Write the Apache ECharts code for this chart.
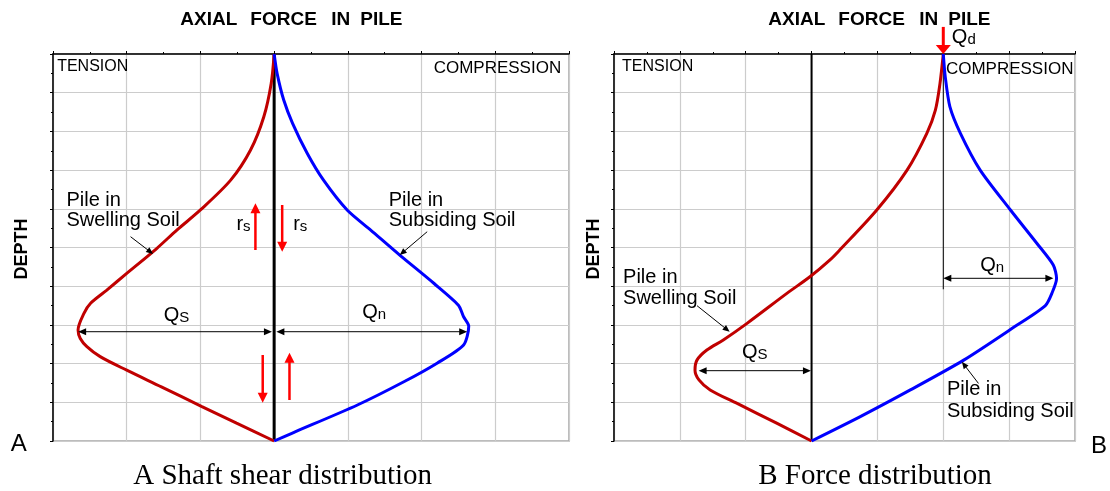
<!DOCTYPE html>
<html>
<head>
<meta charset="utf-8">
<script src="https://cdn.jsdelivr.net/npm/echarts@6/dist/echarts.min.js"></script>
<style>
html,body{margin:0;padding:0;background:#fff;}
#chart{width:1110px;height:491px;}
</style>
</head>
<body>
<div id="chart"></div>
<script>
// ---------------- DATA ----------------
// Axial force (x, grid units: negative = tension, positive = compression) vs depth (y, grid units, 0 = pile head)
const forceMin = -3, forceMax = 4, depthMin = 0, depthMax = 10;

// Panel A - shaft shear distribution
const aSwellDepth = [0, 0.76, 1.62, 2.48, 3.26, 4.03, 4.55, 5.02, 5.67, 6.10, 6.44, 6.70, 7.13, 7.35, 7.56, 7.82, 8.17, 8.60, 9.11, 9.54, 10];
const aSwellForce = [0, -0.04, -0.14, -0.32, -0.59, -1.00, -1.32, -1.59, -2.00, -2.27, -2.49, -2.58, -2.66, -2.63, -2.54, -2.36, -2.00, -1.53, -0.98, -0.51, 0];
const aSubsDepth  = [0, 0.50, 1.19, 1.79, 2.57, 3.26, 4.03, 4.55, 5.19, 5.93, 6.49, 6.79, 7.03, 7.52, 7.99, 8.47, 9.07, 9.80, 10];
const aSubsForce  = [0, 0.04, 0.13, 0.25, 0.45, 0.67, 0.99, 1.31, 1.70, 2.17, 2.50, 2.57, 2.64, 2.57, 2.21, 1.76, 1.13, 0.24, 0];

// Panel B - force distribution
const bSwellDepth = [0, 0.76, 1.45, 2.05, 3.00, 4.03, 5.06, 5.32, 5.75, 6.18, 6.96, 7.39, 7.65, 7.91, 8.17, 8.42, 8.68, 9.03, 9.54, 10];
const bSwellForce = [2.00, 1.95, 1.88, 1.75, 1.45, 0.99, 0.43, 0.28, -0.02, -0.37, -0.98, -1.34, -1.59, -1.74, -1.77, -1.71, -1.54, -1.13, -0.53, 0];
const bSubsDepth  = [0, 0.59, 1.36, 2.05, 3.00, 4.03, 4.89, 5.45, 5.80, 6.18, 6.50, 7.05, 7.91, 8.68, 9.37, 10];
const bSubsForce  = [2.00, 2.03, 2.10, 2.26, 2.56, 3.02, 3.42, 3.67, 3.72, 3.65, 3.55, 3.08, 2.31, 1.50, 0.74, 0];
const bAppliedLoad = 2.0;     // Qd at pile head
const bLoadLineEnd = 6.08;    // depth where the Qd reference line stops

// ---------------- ANNOTATIONS (data units) ----------------
// arrows: [x1, y1, x2, y2, doubleHeaded]
const aShearArrows = [[-0.254, 5.065, -0.254, 3.858, 0], [0.109, 3.902, 0.109, 5.109, 0], [-0.155, 7.778, -0.155, 9.010, 0], [0.208, 8.941, 0.208, 7.718, 0]];
const aForceArrows = [[-2.659, 7.176, -0.03, 7.176, 1], [0.03, 7.176, 2.619, 7.176, 1]];
const aLeaders = [[-1.948, 4.721, -1.642, 5.168, 0], [2.076, 4.592, 1.704, 5.194, 0]];
const bLoadArrow = [[bAppliedLoad, -0.70, bAppliedLoad, 0, 0]];
const bForceArrows = [[-1.715, 8.183, -0.01, 8.183, 1], [bAppliedLoad, 5.796, 3.672, 5.796, 1]];
const bLeaders = [[-1.739, 6.504, -1.244, 7.176, 0], [2.534, 8.512, 2.282, 7.953, 0]];

const aLabels = [
  {x: -2.944, y: 0.328, text: 'TENSION', size: 16, align: 'left'},
  {x: 3.894, y: 0.380, text: 'COMPRESSION', size: 17, align: 'right'},
  {x: -2.818, y: 4.031, text: 'Pile in\nSwelling Soil', size: 20, lh: 20, align: 'left'},
  {x: 1.555, y: 4.031, text: 'Pile in\nSubsiding Soil', size: 20, lh: 20, align: 'left'},
  {x: -0.512, y: 4.393, main: 'r', sub: 's'},
  {x: 0.258, y: 4.393, main: 'r', sub: 's'},
  {x: -1.498, y: 6.757, main: 'Q', sub: 'S'},
  {x: 1.194, y: 6.680, main: 'Q', sub: 'n'}
];
const bLabels = [
  {x: -2.877, y: 0.318, text: 'TENSION', size: 16, align: 'left'},
  {x: 3.976, y: 0.388, text: 'COMPRESSION', size: 17, align: 'right'},
  {x: 2.130, y: -0.426, main: 'Q', sub: 'd'},
  {x: 2.560, y: 5.470, main: 'Q', sub: 'n'},
  {x: -1.056, y: 7.713, main: 'Q', sub: 'S'},
  {x: -2.862, y: 6.037, text: 'Pile in\nSwelling Soil', size: 20, lh: 21, align: 'left'},
  {x: 2.055, y: 8.966, text: 'Pile in\nSubsiding Soil', size: 20, lh: 22, align: 'left'}
];

// ---------------- STYLE ----------------
const SANS = '"Liberation Sans", Arial, Helvetica, sans-serif';
const SERIF = '"Liberation Serif", "Times New Roman", serif';
const RED = '#c00000', BLUE = '#0000ff';

function pairs(xs, ys) { return xs.map((x, i) => [x, ys[i]]); }

function arrowRender(color, width, headLen, headW) {
  return function (params, api) {
    const p1 = api.coord([api.value(0), api.value(1)]);
    const p2 = api.coord([api.value(2), api.value(3)]);
    const both = api.value(4) === 1;
    const dx = p2[0] - p1[0], dy = p2[1] - p1[1];
    const L = Math.hypot(dx, dy) || 1;
    const ux = dx / L, uy = dy / L, nx = -uy, ny = ux;
    const s = both ? [p1[0] + ux * headLen * 0.8, p1[1] + uy * headLen * 0.8] : p1;
    const e = [p2[0] - ux * headLen * 0.8, p2[1] - uy * headLen * 0.8];
    const head = (t, vx, vy) => ({
      type: 'polygon',
      shape: {points: [[t[0], t[1]],
        [t[0] - vx * headLen + nx * headW / 2, t[1] - vy * headLen + ny * headW / 2],
        [t[0] - vx * headLen - nx * headW / 2, t[1] - vy * headLen - ny * headW / 2]]},
      style: {fill: color}
    });
    const children = [
      {type: 'line', shape: {x1: s[0], y1: s[1], x2: e[0], y2: e[1]}, style: {stroke: color, lineWidth: width}},
      head(p2, ux, uy)
    ];
    if (both) children.push(head(p1, -ux, -uy));
    return {type: 'group', children: children};
  };
}

function labelRender(defs) {
  return function (params, api) {
    const d = defs[params.dataIndex];
    const p = api.coord([api.value(0), api.value(1)]);
    let style;
    if (d.main) {
      style = {
        text: '{m|' + d.main + '}{s|' + d.sub + '}',
        fill: '#000',
        align: 'left', textAlign: 'left',
        verticalAlign: 'middle', textVerticalAlign: 'middle',
        rich: {
          m: {fontSize: 20, fontFamily: SANS, lineHeight: 20, fill: '#000', color: '#000'},
          s: {fontSize: 15, fontFamily: SANS, lineHeight: 8, verticalAlign: 'bottom', fill: '#000', color: '#000'}
        }
      };
    } else {
      style = {
        text: d.text, fill: '#000',
        fontSize: d.size, fontFamily: SANS,
        lineHeight: d.lh || d.size,
        align: d.align, textAlign: d.align,
        verticalAlign: 'middle', textVerticalAlign: 'middle'
      };
    }
    return {type: 'text', x: p[0], y: p[1], style: style};
  };
}

function axesFor(i) {
  const x = {
    gridIndex: i, type: 'value', min: forceMin, max: forceMax, interval: 1, position: 'top',
    axisLine: {show: true, onZero: false, lineStyle: {color: '#000', width: 1.5}},
    axisTick: {show: true, inside: false, length: 3, lineStyle: {color: '#000', width: 1}},
    minorTick: {show: true, splitNumber: 2, length: 2, lineStyle: {color: '#000', width: 1}},
    axisLabel: {show: false},
    splitLine: {show: true, lineStyle: {color: '#cccccc', width: 1.2}},
    minorSplitLine: {show: false}
  };
  const y = {
    gridIndex: i, type: 'value', min: depthMin, max: depthMax, interval: 1, inverse: true, position: 'left',
    axisLine: {show: true, onZero: false, lineStyle: {color: '#000', width: 1.5}},
    axisTick: {show: true, inside: false, length: 3, lineStyle: {color: '#000', width: 1}},
    minorTick: {show: true, splitNumber: 2, length: 2, lineStyle: {color: '#000', width: 1}},
    axisLabel: {show: false},
    splitLine: {show: true, lineStyle: {color: '#cccccc', width: 1.2}}
  };
  return [x, y];
}

const [xa, ya] = axesFor(0);
const [xb, yb] = axesFor(1);

function curve(i, data, color, width, smooth) {
  return {type: 'line', xAxisIndex: i, yAxisIndex: i, data: data, showSymbol: false, symbol: 'none',
    smooth: smooth, lineStyle: {color: color, width: width}, silent: true, clip: false, z: 3};
}
function arrows(i, data, color, width, hl, hw) {
  return {type: 'custom', xAxisIndex: i, yAxisIndex: i, data: data, renderItem: arrowRender(color, width, hl, hw), silent: true, z: 6, clip: false};
}
function labels(i, defs) {
  return {type: 'custom', xAxisIndex: i, yAxisIndex: i, data: defs.map(d => [d.x, d.y]), renderItem: labelRender(defs), silent: true, z: 7, clip: false};
}

function titleWords(lefts) {
  const words = ['AXIAL', 'FORCE', 'IN', 'PILE'];
  return words.map((w, k) => ({
    type: 'text', x: lefts[k], y: 19.7,
    style: {text: w, font: 'bold 19px ' + SANS, fill: '#000', align: 'left', textAlign: 'left', verticalAlign: 'middle', textVerticalAlign: 'middle'}
  }));
}

const option = {
  animation: false,
  backgroundColor: '#fff',
  grid: [
    {left: 53, top: 54, width: 516, height: 387, show: true, borderColor: '#a6a6a6', borderWidth: 1.5, backgroundColor: 'transparent'},
    {left: 614, top: 54, width: 461, height: 387, show: true, borderColor: '#a6a6a6', borderWidth: 1.5, backgroundColor: 'transparent'}
  ],
  xAxis: [xa, xb],
  yAxis: [ya, yb],
  graphic: [].concat(
    titleWords([180.3, 250.3, 331.3, 360.3]),
    titleWords([768.3, 838.3, 919.3, 948.3]),
    [
      {type: 'text', x: 22.5, y: 249, rotation: Math.PI / 2,
        style: {text: 'DEPTH', font: 'bold 18px ' + SANS, fill: '#000', align: 'center', textAlign: 'center', verticalAlign: 'middle', textVerticalAlign: 'middle'}},
      {type: 'text', x: 594.5, y: 249, rotation: Math.PI / 2,
        style: {text: 'DEPTH', font: 'bold 18px ' + SANS, fill: '#000', align: 'center', textAlign: 'center', verticalAlign: 'middle', textVerticalAlign: 'middle'}},
      {type: 'text', x: 10.7, y: 444,
        style: {text: 'A', font: '24px ' + SANS, fill: '#000', align: 'left', textAlign: 'left', verticalAlign: 'middle', textVerticalAlign: 'middle'}},
      {type: 'text', x: 1091, y: 446,
        style: {text: 'B', font: '24px ' + SANS, fill: '#000', align: 'left', textAlign: 'left', verticalAlign: 'middle', textVerticalAlign: 'middle'}},
      {type: 'text', x: 282.6, y: 476.4,
        style: {text: 'A Shaft shear distribution', font: '29px ' + SERIF, fill: '#000', align: 'center', textAlign: 'center', verticalAlign: 'middle', textVerticalAlign: 'middle'}},
      {type: 'text', x: 875, y: 476.4,
        style: {text: 'B Force distribution', font: '29px ' + SERIF, fill: '#000', align: 'center', textAlign: 'center', verticalAlign: 'middle', textVerticalAlign: 'middle'}}
    ]
  ),
  series: [
    // Panel A
    curve(0, [[0, depthMin], [0, depthMax]], '#000', 3, false),
    curve(0, pairs(aSwellForce, aSwellDepth), RED, 3, 0.3),
    curve(0, pairs(aSubsForce, aSubsDepth), BLUE, 3, 0.25),
    arrows(0, aShearArrows, '#ff0000', 2.5, 10, 10),
    arrows(0, aForceArrows, '#000', 1, 8, 7),
    arrows(0, aLeaders, '#000', 1, 7, 6),
    labels(0, aLabels),
    // Panel B
    curve(1, [[0, depthMin], [0, depthMax]], '#000', 2, false),
    curve(1, [[bAppliedLoad, depthMin], [bAppliedLoad, bLoadLineEnd]], '#000', 1, false),
    curve(1, pairs(bSwellForce, bSwellDepth), RED, 3, 0.3),
    curve(1, pairs(bSubsForce, bSubsDepth), BLUE, 3, 0.25),
    arrows(1, bLoadArrow, '#ff0000', 3, 9, 15),
    arrows(1, bForceArrows, '#000', 1, 8, 7),
    arrows(1, bLeaders, '#000', 1, 7, 6),
    labels(1, bLabels)
  ]
};

const chart = echarts.init(document.getElementById('chart'), null, {renderer: 'canvas'});
chart.setOption(option);
</script>
</body>
</html>
